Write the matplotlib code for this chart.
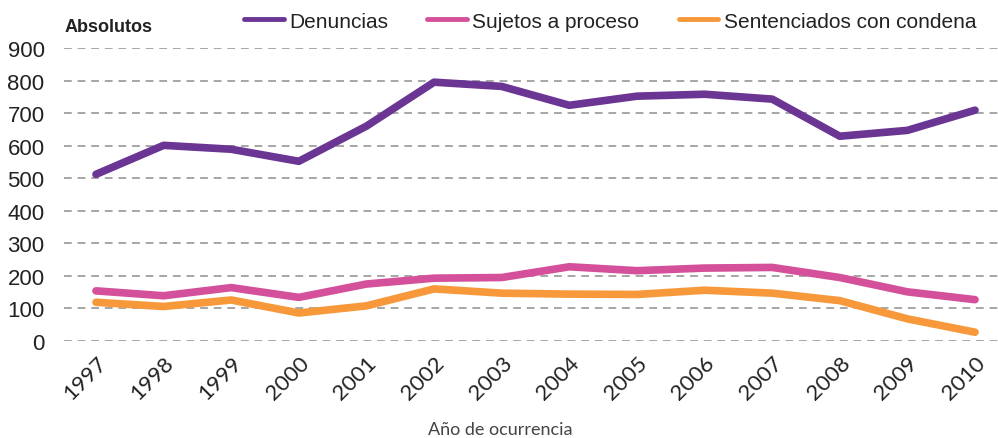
"""
Denuncias, sujetos a proceso y sentenciados con condena, 1997-2010
"""
import matplotlib
matplotlib.use("Agg")
import matplotlib.pyplot as plt

YEARS = ["1997", "1998", "1999", "2000", "2001", "2002", "2003",
         "2004", "2005", "2006", "2007", "2008", "2009", "2010"]
DENUNCIAS = [512, 601, 589, 552, 660, 795, 782, 724, 752, 758, 743, 629, 647, 709]
SUJETOS = [154, 139, 164, 134, 175, 193, 195, 228, 216, 224, 226, 195, 151, 127]
SENTENCIADOS = [119, 106, 126, 86, 108, 160, 147, 144, 143, 156, 147, 124, 68, 27]

LABELS = ["Denuncias", "Sujetos a proceso", "Sentenciados con condena"]
COLORS = ["#6B3594", "#D4509B", "#F7993A"]


def main():
    fig = plt.figure(figsize=(9.98, 4.39), dpi=100)
    ax = fig.add_axes([64 / 998, 1 - 342 / 439, 934 / 998, (342 - 49) / 439])

    x = list(range(len(YEARS)))
    for vals, label, color in zip([DENUNCIAS, SUJETOS, SENTENCIADOS], LABELS, COLORS):
        ax.plot(x, vals, color=color, lw=5.5, label=label, solid_capstyle="round",
                solid_joinstyle="round", zorder=3)

    ax.set_ylim(0, 900)
    ax.set_xlim(-0.473, 13.34)
    ax.set_yticks(range(0, 901, 100))
    ax.set_xticks(x)
    ax.set_xticklabels(YEARS, rotation=45, ha="right", rotation_mode="anchor",
                       fontsize=16, family="Lato", color="#222222")
    for t in ax.get_yticklabels():
        t.set_fontsize(16)
        t.set_family("Liberation Sans")
        t.set_color("#222222")
    ax.tick_params(axis="both", length=0)
    ax.tick_params(axis="y", pad=14)
    ax.tick_params(axis="x", pad=8)
    ax.grid(axis="y", color="#A6A6A6", ls=(0, (4, 3)), lw=1.4)
    for s in ax.spines.values():
        s.set_visible(False)

    fig.text(65 / 998, 1 - 27 / 439, "Absolutos", fontsize=13, fontweight="bold",
             family="Liberation Sans", color="#222222", va="center")
    fig.text(500 / 998, 1 - 430 / 439, "Año de ocurrencia", fontsize=13,
             family="Lato", color="#444444", ha="center", va="center")

    leg = fig.legend(loc="center", bbox_to_anchor=(610 / 998, 1 - 22 / 439), ncol=3,
                     frameon=False, handlelength=1.9, handletextpad=0.25,
                     columnspacing=1.9, borderpad=0, borderaxespad=0,
                     prop={"family": "Liberation Sans", "size": 15})
    for line in leg.get_lines():
        line.set_linewidth(3.5)
    for t in leg.get_texts():
        t.set_color("#222222")

    fig.savefig("out.png", dpi=100)
    plt.close(fig)


if __name__ == "__main__":
    main()
